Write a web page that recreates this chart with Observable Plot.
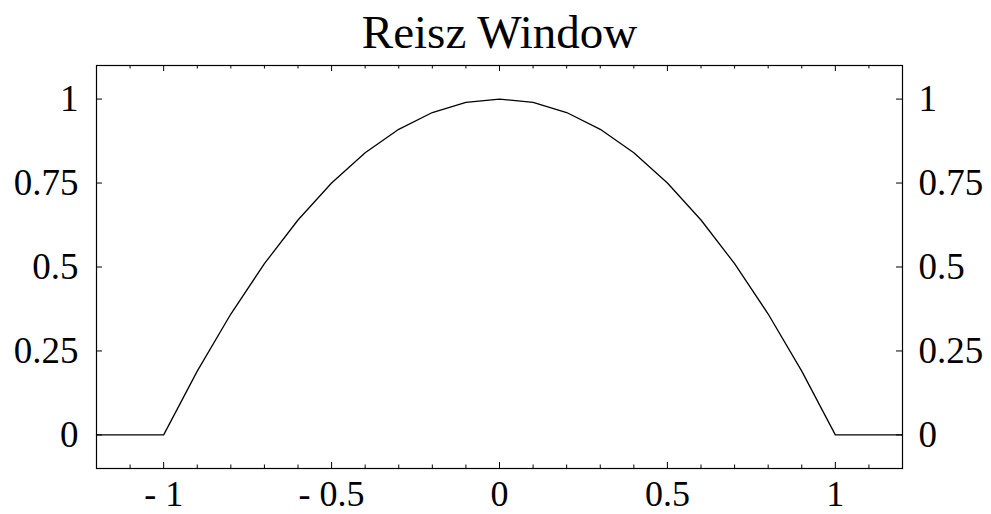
<!DOCTYPE html>
<html>
<head>
<meta charset="utf-8">
<script src="https://cdn.jsdelivr.net/npm/d3@7"></script>
<script src="https://cdn.jsdelivr.net/npm/@observablehq/plot@0.6"></script>
<style>
  html, body { margin: 0; padding: 0; background: #fff; }
  #chart svg { display: block; }
</style>
</head>
<body>
<div id="chart"></div>
<script>
// Reisz window samples: position and window value
const xs = [-1.2, -1, -0.9, -0.8, -0.7, -0.6, -0.5, -0.4, -0.3, -0.2, -0.1, 0,
            0.1, 0.2, 0.3, 0.4, 0.5, 0.6, 0.7, 0.8, 0.9, 1, 1.2];
const ws = [0, 0, 0.19, 0.36, 0.51, 0.64, 0.75, 0.84, 0.91, 0.96, 0.99, 1,
            0.99, 0.96, 0.91, 0.84, 0.75, 0.64, 0.51, 0.36, 0.19, 0, 0];

// Axis ticks and their labels
const xMajor = [-1, -0.5, 0, 0.5, 1];
const xLabels = ["- 1", "- 0.5", "0", "0.5", "1"];
const xMinor = [-1.1, -0.9, -0.8, -0.7, -0.6, -0.4, -0.3, -0.2, -0.1,
                0.1, 0.2, 0.3, 0.4, 0.6, 0.7, 0.8, 0.9, 1.1];
const yMajor = [0, 0.25, 0.5, 0.75, 1];
const yLabels = ["0", "0.25", "0.5", "0.75", "1"];
const title = "Reisz Window";

const data = xs.map((x, i) => ({x, w: ws[i]}));

const W = 991, H = 514;
const mL = 96, mR = 89, mT = 65, mB = 46;
const fw = W - mL - mR, fh = H - mT - mB;
const major = 6, minor = 3.5;

const chart = Plot.plot({
  width: W,
  height: H,
  marginLeft: mL,
  marginRight: mR,
  marginTop: mT,
  marginBottom: mB,
  style: {fontFamily: "'Liberation Serif', 'Times New Roman', serif", fontSize: "36px", background: "#fff", color: "#000"},
  x: {domain: [-1.2, 1.2]},
  y: {domain: [-0.1, 1.1]},
  marks: [
    Plot.frame({stroke: "#000", strokeWidth: 1.2}),
    // inward ticks along all four sides
    Plot.tickX(xMajor, {x: d => d, insetTop: fh - major, stroke: "#000"}),
    Plot.tickX(xMajor, {x: d => d, insetBottom: fh - major, stroke: "#000"}),
    Plot.tickX(xMinor, {x: d => d, insetTop: fh - minor, stroke: "#000"}),
    Plot.tickX(xMinor, {x: d => d, insetBottom: fh - minor, stroke: "#000"}),
    Plot.tickY(yMajor, {y: d => d, insetRight: fw - major, stroke: "#000"}),
    Plot.tickY(yMajor, {y: d => d, insetLeft: fw - major, stroke: "#000"}),
    // tick labels
    Plot.axisX(xMajor, {anchor: "bottom", tickSize: 0, tickPadding: 12, tickFormat: (d, i) => xLabels[i], fontSize: 36, label: null}),
    Plot.axisY(yMajor, {anchor: "left", tickSize: 0, tickPadding: 18, tickFormat: (d, i) => yLabels[i], fontSize: 37, label: null}),
    Plot.axisY(yMajor, {anchor: "right", tickSize: 0, tickPadding: 16, tickFormat: (d, i) => yLabels[i], fontSize: 37, label: null}),
    // the window curve
    Plot.line(data, {x: "x", y: "w", stroke: "#000", strokeWidth: 1.3}),
    // title
    Plot.text([title], {frameAnchor: "top", lineAnchor: "bottom", dy: -18, fontSize: 47, fill: "#000"})
  ]
});
document.getElementById("chart").appendChild(chart);
</script>
</body>
</html>
